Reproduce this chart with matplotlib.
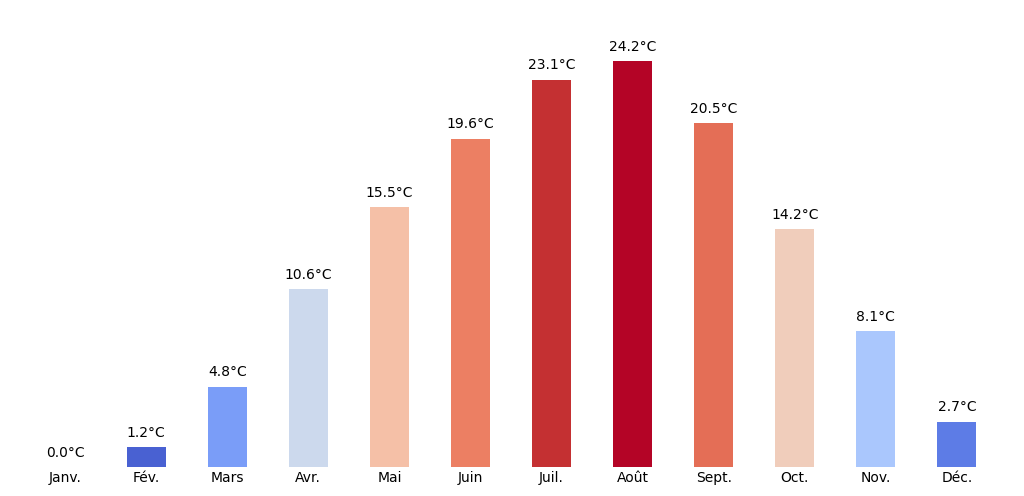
import matplotlib
matplotlib.use("Agg")
import matplotlib.pyplot as plt
from matplotlib import cm, colors

months = ["Janv.", "Fév.", "Mars", "Avr.", "Mai", "Juin", "Juil.", "Août", "Sept.", "Oct.", "Nov.", "Déc."]
temps = [0.0, 1.2, 4.8, 10.6, 15.5, 19.6, 23.1, 24.2, 20.5, 14.2, 8.1, 2.7]

norm = colors.Normalize(vmin=min(temps), vmax=max(temps))
bar_colors = [cm.coolwarm(norm(t)) for t in temps]

fig = plt.figure(figsize=(10.24, 4.96), dpi=100)
ax = fig.add_axes([0.024, 0.058, 0.95, 0.9])
x = range(len(months))
ax.bar(x, temps, width=0.48, color=bar_colors)
for i, t in enumerate(temps):
    ax.text(i, t + 0.45, f"{t:.1f}°C", ha="center", va="bottom", fontsize=10)

ax.set_xlim(-0.5, len(months) - 0.5)
ax.set_ylim(0, max(temps) * 1.1)
ax.set_xticks(list(x))
ax.set_xticklabels(months, fontsize=10)
ax.tick_params(axis="x", length=0, pad=3)
ax.set_yticks([])
for s in ax.spines.values():
    s.set_visible(False)

fig.savefig("out.png", dpi=100)
